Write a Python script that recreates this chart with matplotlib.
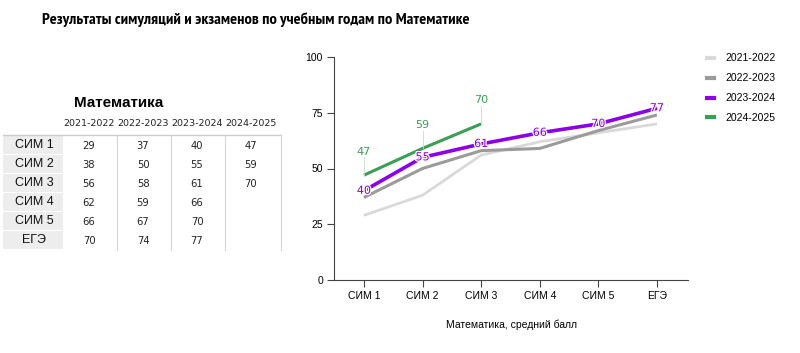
import matplotlib
matplotlib.use("Agg")
import matplotlib.pyplot as plt
import matplotlib.patheffects as pe
from matplotlib.patches import Rectangle
from matplotlib.lines import Line2D
from matplotlib import font_manager

plt.rcParams['font.family'] = ['Liberation Sans', 'DejaVu Sans']

# данные
categories = ["СИМ 1", "СИМ 2", "СИМ 3", "СИМ 4", "СИМ 5", "ЕГЭ"]
years = ["2021-2022", "2022-2023", "2023-2024", "2024-2025"]
y2122 = [29, 38, 56, 62, 66, 70]
y2223 = [37, 50, 58, 59, 67, 74]
y2324 = [40, 55, 61, 66, 70, 77]
y2425 = [47, 59, 70]
series = [y2122, y2223, y2324, y2425]
colors = ["#d9d9d9", "#9b9b9b", "#8b00e8", "#3a9e55"]
widths = [2.0, 2.2, 2.6, 2.2]

W, H = 800, 353
fig = plt.figure(figsize=(W / 100, H / 100), dpi=100)

def fx(px):
    return px / W

def fy(py):
    return 1 - py / H

# узкий шрифт для заголовка, если есть
names = {f.name for f in font_manager.fontManager.ttflist}
narrow = [n for n in ["Liberation Sans Narrow", "Arial Narrow", "PT Sans Narrow",
                      "Roboto Condensed", "Archivo Narrow", "Fira Sans Condensed",
                      "IBM Plex Sans Condensed", "Open Sans Condensed"] if n in names]
title_font = [narrow[0] if narrow else "Liberation Sans", "DejaVu Sans"]
t = fig.text(fx(256), fy(20), "Результаты симуляций и экзаменов по учебным годам по Математике",
             ha="center", va="center", fontsize=13, fontweight="bold", family=title_font)
r = fig.canvas.get_renderer()
tw = t.get_window_extent(r).width
t.set_fontsize(min(13.5, 13 * 425 / tw))

# --- таблица слева ---
fig.text(fx(119), fy(103), "Математика", ha="center", va="center", fontsize=11, fontweight="bold")
col_x = [89, 143, 197, 251]
row_y = [145, 164, 183, 202, 221, 240]
for j, yr in enumerate(years):
    fig.text(fx(col_x[j]), fy(124), yr, ha="center", va="center", fontsize=6.8,
             family="DejaVu Sans", color="#222222")
fig.add_artist(Line2D([fx(3), fx(281)], [fy(135), fy(135)], color="#cccccc", lw=1))
for xv in [117, 171, 225, 281]:
    fig.add_artist(Line2D([fx(xv), fx(xv)], [fy(135), fy(250)], color="#d5d5d5", lw=0.8))
for i, cat in enumerate(categories):
    fig.add_artist(Rectangle((fx(3), fy(row_y[i] + 9)), fx(60), 18 / H,
                             facecolor="#ededed", edgecolor="none"))
    fig.text(fx(34), fy(row_y[i]), cat, ha="center", va="center", fontsize=9, color="#111111")
    for j, s in enumerate(series):
        if i < len(s):
            fig.text(fx(col_x[j]), fy(row_y[i] + 1), str(s[i]), ha="center", va="center",
                     fontsize=7.2, family="DejaVu Sans", color="#222222")

# --- график ---
ax = fig.add_axes([fx(334), fy(280), fx(688 - 334), (280 - 57) / H])
x = list(range(len(categories)))
for s, c, lw, yr in zip(series, colors, widths, years):
    ax.plot(x[:len(s)], s, color=c, lw=lw, label=yr, solid_capstyle="butt")

halo = [pe.withStroke(linewidth=1.8, foreground="white")]
for xi, v in zip(x, y2324):
    ax.text(xi, v, str(v), color=colors[2], fontsize=8, family="DejaVu Sans",
            ha="center", va="center", path_effects=halo)
for xi, v in zip(x, y2425):
    ax.plot([xi, xi], [v, v + 8], color="#bfe0c8", lw=0.6)
    ax.text(xi, v + 8.3, str(v), color=colors[3], fontsize=8, family="DejaVu Sans",
            ha="center", va="bottom")

ax.set_xlim(-0.51, 5.53)
ax.set_ylim(0, 100)
ax.set_xticks(x)
ax.set_xticklabels(categories, fontsize=7.5)
ax.set_yticks([0, 25, 50, 75, 100])
ax.tick_params(axis="both", labelsize=7.5, length=5, color="#444444", width=0.8, pad=3)
for sp in ["top", "right"]:
    ax.spines[sp].set_visible(False)
for sp in ["left", "bottom"]:
    ax.spines[sp].set_color("#444444")
    ax.spines[sp].set_linewidth(0.8)
ax.set_xlabel("Математика, средний балл", fontsize=7.5, labelpad=13)

handles = [Line2D([0], [0], color=c, lw=3) for c in colors]
fig.legend(handles, years, loc="upper left", bbox_to_anchor=(fx(698), fy(44)),
           frameon=False, fontsize=7.5, handlelength=0.6, labelspacing=0.95,
           handletextpad=1.1)

fig.savefig("out.png", dpi=100, facecolor="white")
